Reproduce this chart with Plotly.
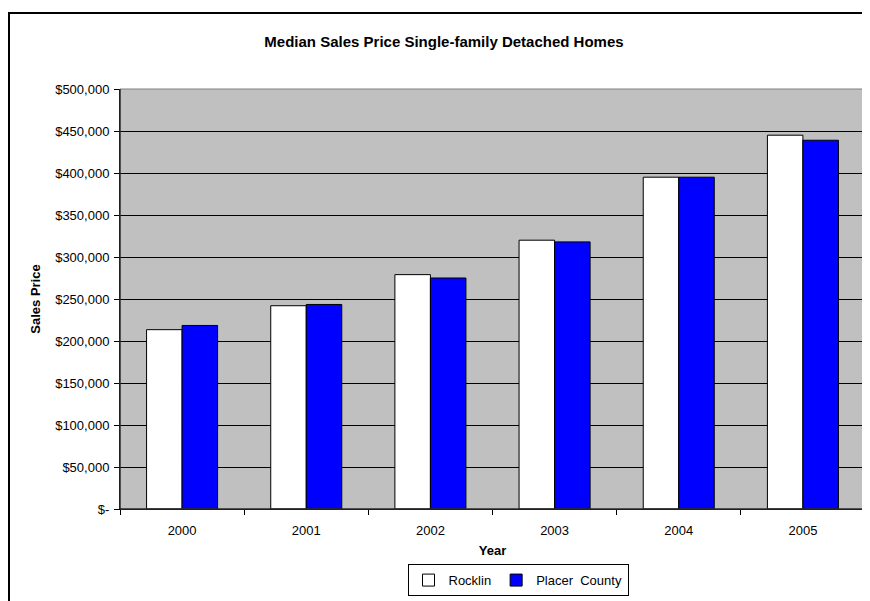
import plotly.graph_objects as go

years = ["2000", "2001", "2002", "2003", "2004", "2005"]
rocklin = [213500, 242000, 279000, 320000, 395000, 445000]
placer = [218500, 243500, 275000, 318000, 395000, 439000]
series_names = ["Rocklin", "Placer  County"]
y_tickvals = [0, 50000, 100000, 150000, 200000, 250000, 300000, 350000, 400000, 450000, 500000]
y_ticktext = ["$-", "$50,000", "$100,000", "$150,000", "$200,000", "$250,000",
              "$300,000", "$350,000", "$400,000", "$450,000", "$500,000"]

FONT = "Liberation Sans, Arial, sans-serif"

fig = go.Figure()
fig.add_trace(go.Bar(x=years, y=rocklin, name=series_names[0],
                     marker=dict(color="#FFFFFF", line=dict(color="#000000", width=1))))
fig.add_trace(go.Bar(x=years, y=placer, name=series_names[1],
                     marker=dict(color="#0000FF", line=dict(color="#000000", width=1))))

# page has an 8px body margin: figure coordinates are page coordinates minus 8
OFF = 8
W, H = 870 - OFF, 601 - OFF
L = 120 - OFF
R = W - (865 - OFF)
T = 89 - OFF
B = H - (512.3 - OFF)
pw = W - L - R
ph = H - T - B


def px_x(page_x):
    return (page_x - OFF - L) / pw


def px_y(page_y):
    return (H - B - (page_y - OFF)) / ph


fig.update_layout(
    width=W, height=H,
    margin=dict(l=L, r=R, t=T, b=B, pad=0),
    paper_bgcolor="#FFFFFF",
    plot_bgcolor="#C0C0C0",
    font=dict(family=FONT, size=13, color="#000000"),
    barmode="group", bargap=0.428, bargroupgap=0,
    title=dict(text="<b>Median Sales Price Single-family Detached Homes</b>",
               x=(444 - OFF) / W, xanchor="center", y=1 - (42 - OFF) / H, yanchor="middle",
               font=dict(family=FONT, size=15, color="#000000")),
    showlegend=True,
    legend=dict(orientation="h", x=px_x(518), xanchor="center",
                y=px_y(584), yanchor="middle",
                bordercolor="#000000", borderwidth=1, bgcolor="#FFFFFF",
                itemwidth=30,
                font=dict(family=FONT, size=13), traceorder="normal"),
    xaxis=dict(type="category", tickson="boundaries", ticks="outside", ticklen=5,
               tickcolor="#000000", showline=True, linecolor="#000000", linewidth=1,
               showgrid=False, ticklabelstandoff=9,
               title=dict(text="<b>Year</b>", standoff=9, font=dict(size=13))),
    yaxis=dict(range=[0, 500000], tickvals=y_tickvals, ticktext=y_ticktext,
               ticks="outside", ticklen=5, tickcolor="#000000",
               showline=True, linecolor="#000000", linewidth=1,
               showgrid=True, gridcolor="#000000", gridwidth=1,
               zeroline=False, ticklabelstandoff=2,
               title=dict(text="<b>Sales Price</b>", standoff=11, font=dict(size=13))),
    shapes=[
        # plot area border (gray)
        dict(type="rect", xref="paper", yref="paper", x0=0, x1=1, y0=0, y1=1,
             line=dict(color="#808080", width=1), layer="above"),
        # left / bottom axis lines in black on top of border
        dict(type="line", xref="paper", yref="paper", x0=0, x1=0, y0=0, y1=1,
             line=dict(color="#000000", width=1), layer="above"),
        dict(type="line", xref="paper", yref="paper", x0=0, x1=1, y0=0, y1=0,
             line=dict(color="#000000", width=1), layer="above"),
        # outer chart frame (cut off at right and bottom)
        dict(type="rect", xref="paper", yref="paper",
             x0=px_x(9), x1=px_x(900),
             y0=px_y(640), y1=px_y(12.5),
             line=dict(color="#000000", width=2), layer="above"),
    ],
)

fig.write_html("out.html")
